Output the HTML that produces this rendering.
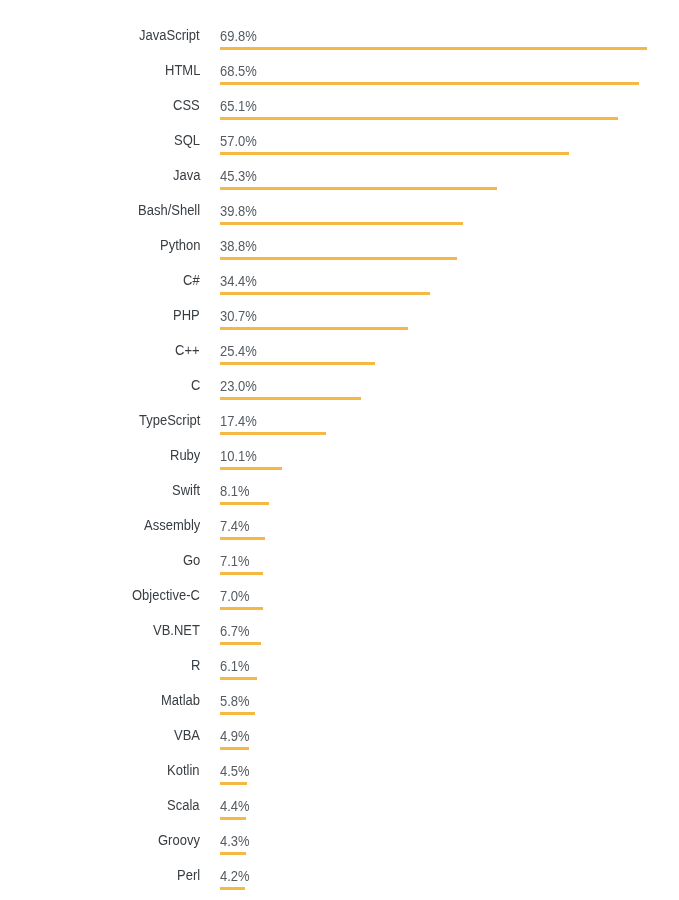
<!DOCTYPE html>
<html><head><meta charset="utf-8"><style>
html,body{margin:0;padding:0;background:#fff;}
body{width:679px;height:900px;position:relative;overflow:hidden;font-family:"Liberation Sans",sans-serif;font-size:13px;line-height:15px;}
.l,.p{transform:scaleY(1.1);transform-origin:0 12px;will-change:transform;}
.l{position:absolute;right:479px;white-space:nowrap;color:#383d42;text-align:right;}
.p{position:absolute;left:220px;white-space:nowrap;color:#555b61;}
.b{position:absolute;left:220px;height:3px;background:#f5b843;}
</style></head><body>
<div class="l" style="top:28px">JavaScript</div><div class="p" style="top:29px">69.8%</div><div class="b" style="top:47px;width:427px"></div>
<div class="l" style="top:63px">HTML</div><div class="p" style="top:64px">68.5%</div><div class="b" style="top:82px;width:419px"></div>
<div class="l" style="top:98px">CSS</div><div class="p" style="top:99px">65.1%</div><div class="b" style="top:117px;width:398px"></div>
<div class="l" style="top:133px">SQL</div><div class="p" style="top:134px">57.0%</div><div class="b" style="top:152px;width:349px"></div>
<div class="l" style="top:168px">Java</div><div class="p" style="top:169px">45.3%</div><div class="b" style="top:187px;width:277px"></div>
<div class="l" style="top:203px">Bash/Shell</div><div class="p" style="top:204px">39.8%</div><div class="b" style="top:222px;width:243px"></div>
<div class="l" style="top:238px">Python</div><div class="p" style="top:239px">38.8%</div><div class="b" style="top:257px;width:237px"></div>
<div class="l" style="top:273px">C#</div><div class="p" style="top:274px">34.4%</div><div class="b" style="top:292px;width:210px"></div>
<div class="l" style="top:308px">PHP</div><div class="p" style="top:309px">30.7%</div><div class="b" style="top:327px;width:188px"></div>
<div class="l" style="top:343px">C++</div><div class="p" style="top:344px">25.4%</div><div class="b" style="top:362px;width:155px"></div>
<div class="l" style="top:378px">C</div><div class="p" style="top:379px">23.0%</div><div class="b" style="top:397px;width:141px"></div>
<div class="l" style="top:413px">TypeScript</div><div class="p" style="top:414px">17.4%</div><div class="b" style="top:432px;width:106px"></div>
<div class="l" style="top:448px">Ruby</div><div class="p" style="top:449px">10.1%</div><div class="b" style="top:467px;width:62px"></div>
<div class="l" style="top:483px">Swift</div><div class="p" style="top:484px">8.1%</div><div class="b" style="top:502px;width:49px"></div>
<div class="l" style="top:518px">Assembly</div><div class="p" style="top:519px">7.4%</div><div class="b" style="top:537px;width:45px"></div>
<div class="l" style="top:553px">Go</div><div class="p" style="top:554px">7.1%</div><div class="b" style="top:572px;width:43px"></div>
<div class="l" style="top:588px">Objective-C</div><div class="p" style="top:589px">7.0%</div><div class="b" style="top:607px;width:43px"></div>
<div class="l" style="top:623px">VB.NET</div><div class="p" style="top:624px">6.7%</div><div class="b" style="top:642px;width:41px"></div>
<div class="l" style="top:658px">R</div><div class="p" style="top:659px">6.1%</div><div class="b" style="top:677px;width:37px"></div>
<div class="l" style="top:693px">Matlab</div><div class="p" style="top:694px">5.8%</div><div class="b" style="top:712px;width:35px"></div>
<div class="l" style="top:728px">VBA</div><div class="p" style="top:729px">4.9%</div><div class="b" style="top:747px;width:29px"></div>
<div class="l" style="top:763px">Kotlin</div><div class="p" style="top:764px">4.5%</div><div class="b" style="top:782px;width:27px"></div>
<div class="l" style="top:798px">Scala</div><div class="p" style="top:799px">4.4%</div><div class="b" style="top:817px;width:26px"></div>
<div class="l" style="top:833px">Groovy</div><div class="p" style="top:834px">4.3%</div><div class="b" style="top:852px;width:26px"></div>
<div class="l" style="top:868px">Perl</div><div class="p" style="top:869px">4.2%</div><div class="b" style="top:887px;width:25px"></div>
</body></html>
